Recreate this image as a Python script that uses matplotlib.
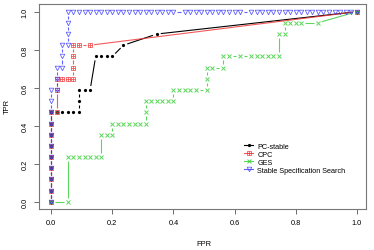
import numpy as np
import matplotlib
matplotlib.use('Agg')
import matplotlib.pyplot as plt
from matplotlib.path import Path
from matplotlib.collections import LineCollection
from matplotlib.lines import Line2D

plt.rcParams['font.family'] = ['Liberation Sans', 'DejaVu Sans']

# ROC points, as counts (false edges out of 55, true edges out of 17)
N_NEG = 55
N_POS = 17

pc_fp = [0, 0, 0, 0, 0, 0, 0, 0, 0, 1, 2, 3, 4, 5, 5, 5, 6, 7, 8, 9, 10, 11, 13, 19, 55]
pc_tp = [0, 1, 2, 3, 4, 5, 6, 7, 8, 8, 8, 8, 8, 8, 9, 10, 10, 10, 13, 13, 13, 13, 14, 15, 17]

cpc_fp = [0, 0, 0, 0, 0, 0, 0, 0, 0, 1, 1, 1, 2, 3, 4, 4, 4, 4, 5, 7, 55]
cpc_tp = [0, 1, 2, 3, 4, 5, 6, 7, 8, 8, 10, 11, 11, 11, 11, 12, 13, 14, 14, 14, 17]

ges_fp = [0, 3, 3, 4, 5, 6, 7, 8, 9, 9, 10, 11, 11, 12, 13, 14, 15, 16, 17, 17,
          17, 18, 19, 20, 21, 22, 22, 23, 24, 25, 26, 28, 28, 28, 29, 31,
          31, 32, 34, 36, 37, 38, 39, 40, 41, 41, 42, 42, 43, 44, 45, 48, 55]
ges_tp = [0, 0, 4, 4, 4, 4, 4, 4, 4, 6, 6, 6, 7, 7, 7, 7, 7, 7, 7, 8,
          9, 9, 9, 9, 9, 9, 10, 10, 10, 10, 10, 10, 11, 12, 12, 12,
          13, 13, 13, 13, 13, 13, 13, 13, 13, 15, 15, 16, 16, 16, 16, 16, 17]

sss_fp = [0, 0, 0, 0, 0, 0, 0, 0, 0, 0, 0, 1, 1, 1, 2, 2, 2, 3, 3, 3, 3,
          4, 5, 6, 7, 8, 9, 10, 11, 12, 13, 14, 15, 16, 17, 18, 19, 20, 21, 22,
          24, 25, 26, 27, 28, 29, 30, 31, 32, 33, 34,
          36, 37, 38, 39, 40, 41, 42, 43, 44, 45, 46, 47, 48, 49, 50, 51, 52, 53, 54, 55]
sss_tp = [0, 1, 2, 3, 4, 5, 6, 7, 8, 9, 10, 10, 11, 12, 12, 13, 14, 14, 15, 16, 17] + [17] * 50

series = [
    ('PC-stable', pc_fp, pc_tp, 'black', 'dot'),
    ('CPC', cpc_fp, cpc_tp, '#f03030', 'boxplus'),
    ('GES', ges_fp, ges_tp, '#33cc33', 'x'),
    ('Stable Specification Search', sss_fp, sss_tp, '#3a3aff', 'v'),
]

# square with a plus inside (like R pch=12)
boxplus = Path([(-1, -1), (1, -1), (1, 1), (-1, 1), (-1, -1),
                (-1, 0), (1, 0), (0, -1), (0, 1)],
               [Path.MOVETO, Path.LINETO, Path.LINETO, Path.LINETO, Path.CLOSEPOLY,
                Path.MOVETO, Path.LINETO, Path.MOVETO, Path.LINETO])

marker_style = {
    'dot': dict(marker='o', ms=2.3, mew=0),
    'boxplus': dict(marker=boxplus, ms=3.2, mew=0.6, mfc='none'),
    'x': dict(marker='x', ms=2.8, mew=0.7),
    'v': dict(marker='v', ms=3.3, mew=0.6, mfc='none'),
}

fig = plt.figure(figsize=(3.74, 2.51), dpi=100)
ax = fig.add_axes([39 / 374, 1 - 210 / 251, 327 / 374, 205.3 / 251])
ax.set_xlim(-0.04, 1.03)
ax.set_ylim(-0.038, 1.042)


def gapped_segments(x, y, gap=4.0):
    # R type="b": lines stop short of each point
    pts = ax.transData.transform(np.column_stack([x, y]))
    inv = ax.transData.inverted()
    segs = []
    for p, q in zip(pts[:-1], pts[1:]):
        d = q - p
        length = np.hypot(d[0], d[1])
        if length <= 2 * gap:
            continue
        u = d / length
        segs.append(inv.transform([p + u * gap, q - u * gap]))
    return segs


handles = []
for z, (label, fp, tp, color, mk) in enumerate(series):
    x = np.array(fp) / N_NEG
    y = np.array(tp) / N_POS
    alpha = 1.0 if color == 'black' else 0.8
    lc = LineCollection(gapped_segments(x, y), colors=color, linewidths=0.8,
                        alpha=alpha, zorder=2 + z)
    ax.add_collection(lc)
    st = marker_style[mk]
    ax.plot(x, y, ls='none', color=color, mec=color, alpha=alpha, zorder=2.5 + z, **st)
    handles.append(Line2D([], [], color=color, lw=0.8, alpha=alpha, **st))

ticks = [0.0, 0.2, 0.4, 0.6, 0.8, 1.0]
ax.set_xticks(ticks)
ax.set_xticklabels(['%.1f' % t for t in ticks], fontsize=5.3)
ax.set_yticks(ticks)
ax.set_yticklabels(['%.1f' % t for t in ticks], fontsize=5.3, rotation=90, va='center')
ax.tick_params(direction='out', length=3.5, width=0.6, color='#555555', pad=4)
for sp in ax.spines.values():
    sp.set_color('#777777')
    sp.set_linewidth(0.8)

fig.text(204 / 374, 1 - 245 / 251, 'FPR', fontsize=5.4, ha='center', va='center')
fig.text(7 / 374, 1 - 107 / 251, 'TPR', fontsize=5.4, ha='center', va='center', rotation=90)

fig.legend(handles, [s[0] for s in series], loc='upper left',
           bbox_to_anchor=(244 / 374, 1 - 143.5 / 251), frameon=False,
           fontsize=5.2, borderpad=0, borderaxespad=0, handlelength=1.25,
           handletextpad=0.6, labelspacing=0.15)

fig.savefig('out.png', dpi=100)
